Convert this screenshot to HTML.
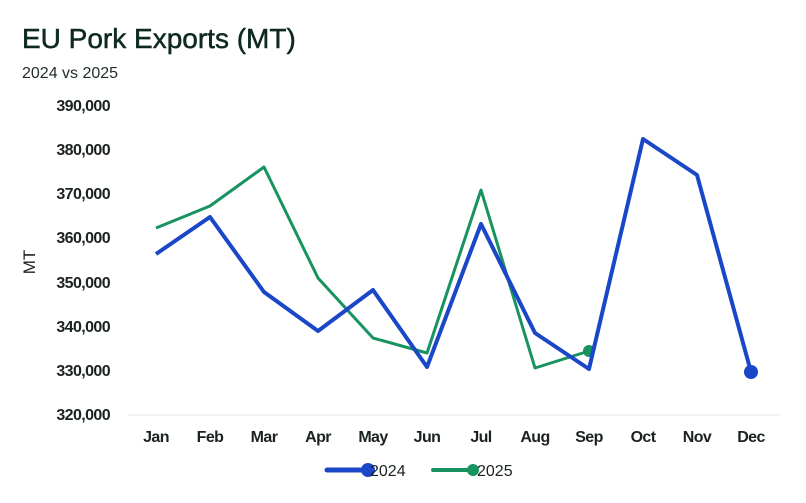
<!DOCTYPE html>
<html><head><meta charset="utf-8"><style>
body{margin:0;background:#fff;}
svg{display:block;font-family:"Liberation Sans",sans-serif;}
</style></head><body>
<svg width="806" height="503" viewBox="0 0 806 503">
<text x="22" y="48" font-size="28" fill="#0f2a20" stroke="#0f2a20" stroke-width="0.5">EU Pork Exports (MT)</text>
<text x="22" y="78" font-size="16" fill="#1f2d28">2024 vs 2025</text>
<g font-size="16" font-weight="bold" fill="#1a2320" text-anchor="end" letter-spacing="-0.6">
<text x="110" y="111">390,000</text>
<text x="110" y="155">380,000</text>
<text x="110" y="199">370,000</text>
<text x="110" y="243">360,000</text>
<text x="110" y="288">350,000</text>
<text x="110" y="332">340,000</text>
<text x="110" y="376">330,000</text>
<text x="110" y="420">320,000</text>
</g>
<text transform="translate(35,262) rotate(-90)" font-size="17" fill="#1a2320" text-anchor="middle">MT</text>
<line x1="128" y1="415" x2="780" y2="415" stroke="#eeeeee" stroke-width="1.5"/>
<g font-size="16" font-weight="bold" fill="#1a2320" text-anchor="middle" letter-spacing="-0.6">
<text x="156" y="442">Jan</text><text x="210" y="442">Feb</text><text x="264" y="442">Mar</text>
<text x="318" y="442">Apr</text><text x="373" y="442">May</text><text x="427" y="442">Jun</text>
<text x="481" y="442">Jul</text><text x="535" y="442">Aug</text><text x="589" y="442">Sep</text>
<text x="643" y="442">Oct</text><text x="697" y="442">Nov</text><text x="751" y="442">Dec</text>
</g>
<polyline fill="none" stroke="#17935f" stroke-width="3" stroke-linejoin="round"
points="156,228 210,206 264,167 318,278 373,338 427,353 481,190 535,368 589,351"/>
<circle cx="589" cy="351" r="6" fill="#17935f"/>
<polyline fill="none" stroke="#1a47c8" stroke-width="4" stroke-linejoin="round"
points="156,254 210,217 264,292 318,331 373,290 427,367 481,224 535,333 589,369 643,139 697,175 751,372"/>
<circle cx="751" cy="372" r="7" fill="#1a47c8"/>
<line x1="327" y1="470" x2="367" y2="470" stroke="#1a47c8" stroke-width="5" stroke-linecap="round"/>
<circle cx="368" cy="470" r="7" fill="#1a47c8"/>
<text x="370" y="476" font-size="16" fill="#1a2320">2024</text>
<line x1="433" y1="470" x2="472" y2="470" stroke="#17935f" stroke-width="4" stroke-linecap="round"/>
<circle cx="473" cy="470" r="6" fill="#17935f"/>
<text x="477" y="476" font-size="16" fill="#1a2320">2025</text>
</svg>
</body></html>
